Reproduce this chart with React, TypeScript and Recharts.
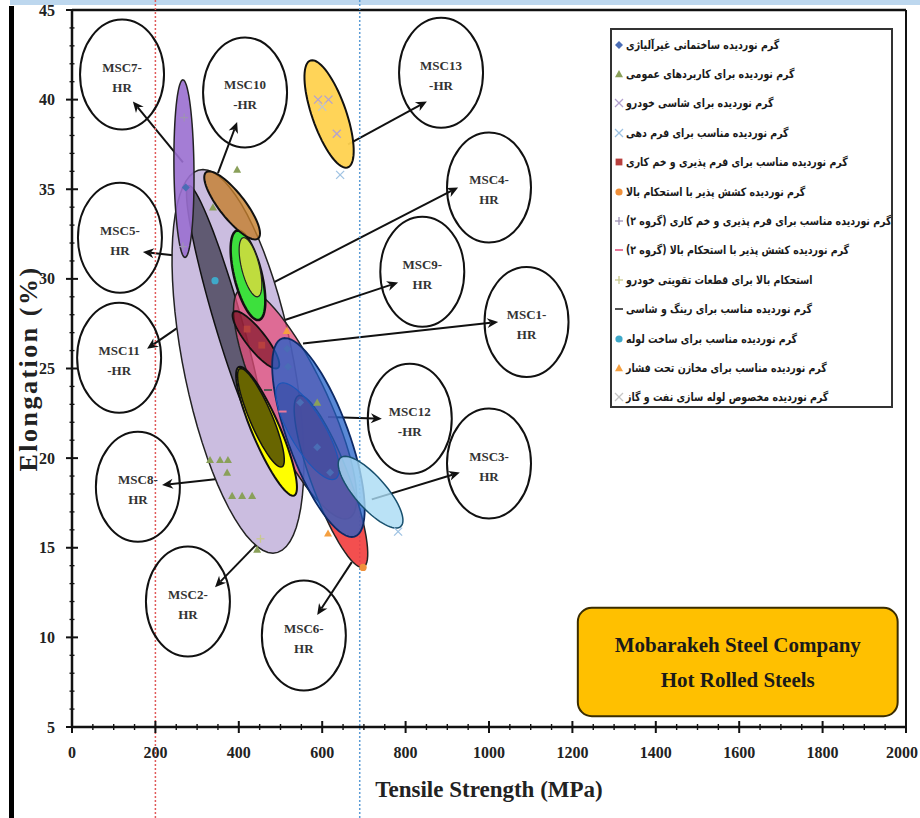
import { ScatterChart, Scatter, XAxis, YAxis, ReferenceLine, ReferenceArea, Legend, Label } from "recharts"

const serif = "'Liberation Serif', 'Times New Roman', serif"
const persian = "'DejaVu Sans', sans-serif"

// grade zones: topmost point, bottommost point (MPa, %) and half width at mid height (MPa)
const zoneNames = ["MSC2", "MSC11", "MSC7", "MSC1", "MSC6", "MSC9", "MSC8", "MSC8-core", "MSC12", "MSC12-core", "MSC3", "MSC5", "MSC5-core", "MSC10", "MSC13"]
const zoneTop = [[314, 36.1], [281, 35.2], [266, 41.1], [415, 29.5], [547, 23.5], [393, 28.2], [403, 25.1], [405, 25.0], [511, 26.7], [506, 24.2], [655, 20.1], [398, 32.7], [412, 32.3], [329, 36.0], [576, 42.2]]
const zoneBottom = [[482, 14.7], [456, 21.0], [271, 31.2], [655, 16.6], [695, 13.9], [489, 25.0], [530, 17.9], [501, 19.5], [671, 15.6], [624, 18.8], [777, 16.1], [446, 27.7], [444, 29.0], [439, 32.2], [657, 36.2]]
const zoneHalfWidth = [134, 34, 24, 86, 48, 29, 36, 29, 77, 48, 48, 34, 22, 38, 43]

const zoneStyle = [
  { fill: "#cbbde0", op: 1, stroke: "#222", w: 1.5 },
  { fill: "#3c3a4e", op: 0.75, stroke: "#111", w: 1.5 },
  { fill: "#9a6fd0", op: 0.9, stroke: "#222", w: 1.5 },
  { fill: "#e4507c", op: 0.75, stroke: "#222", w: 1.5 },
  { fill: "#f23c3c", op: 0.9, stroke: "#222", w: 1.5 },
  { fill: "#7a0f1e", op: 0.65, stroke: "#111", w: 1.8 },
  { fill: "#ffff00", op: 1, stroke: "#111", w: 2 },
  { fill: "#4e4a00", op: 0.85, stroke: "#111", w: 1.5 },
  { fill: "#2260c8", op: 0.75, stroke: "#0d2a66", w: 1.8 },
  { fill: "#2a3c96", op: 0.35, stroke: "#1d56b8", w: 1.2 },
  { fill: "#a9dbf4", op: 0.8, stroke: "#18506e", w: 1.5 },
  { fill: "#3de03d", op: 1, stroke: "#111", w: 2.5 },
  { fill: "#bfdc3e", op: 1, stroke: "#222", w: 1.2 },
  { fill: "#c47e2c", op: 0.8, stroke: "#111", w: 2 },
  { fill: "#ffd24f", op: 0.95, stroke: "#111", w: 2 },
]

// legend series (steel grades) and their measured points
const seriesNames = [
  "گرم نوردیده ساختمانی غیرآلیاژی",
  "گرم نوردیده برای کاربردهای عمومی",
  "گرم نوردیده برای شاسی خودرو",
  "گرم نوردیده مناسب برای فرم دهی",
  "گرم نوردیده مناسب برای فرم پذیری و خم کاری",
  "گرم نوردیده کشش پذیر با استحکام بالا",
  "گرم نوردیده مناسب برای فرم پذیری و خم کاری (گروه ۲)",
  "گرم نوردیده کشش پذیر با استحکام بالا (گروه ۲)",
  "استحکام بالا برای قطعات تقویتی خودرو",
  "گرم نوردیده مناسب برای رینگ و شاسی",
  "گرم نوردیده مناسب برای ساخت لوله",
  "گرم نوردیده مناسب برای مخازن تحت فشار",
  "گرم نوردیده مخصوص لوله سازی نفت و گاز",
]
const seriesPoints = [
  [[273, 35.1], [516, 26.1], [518, 25.1], [547, 23.1], [588, 20.6], [619, 19.2]],
  [[396, 36.1], [338, 34.0], [331, 19.9], [355, 19.9], [374, 19.9], [372, 19.2], [384, 17.9], [408, 17.9], [432, 17.9], [444, 14.9], [588, 23.1]],
  [[590, 40.0], [615, 40.0], [635, 38.1]],
  [[643, 35.8], [782, 15.9]],
  [[420, 27.2], [455, 26.3]],
  [[698, 13.9]],
  [[269, 39.0], [266, 31.8]],
  [[505, 22.6]],
  [[452, 15.5]],
  [[470, 23.8]],
  [[343, 29.9]],
  [[515, 27.1], [614, 15.8]],
  [[600, 39.6]],
]
const seriesMarker = ["diamond", "triangle", "x", "x", "square", "circle", "plus", "dash", "plus", "dash", "circle", "triangle", "x"]
const seriesColor = ["#4a6db5", "#8aa05a", "#b3a2cf", "#9fc3e3", "#b8403e", "#f0903a", "#9f92b5", "#e8789a", "#c9c98f", "#555555", "#3fa9c9", "#f5a040", "#c6c6c6"]

// label bubbles and the arrows pointing at them
const bubbleLine1 = ["MSC1-", "MSC2-", "MSC3-", "MSC4-", "MSC5-", "MSC6-", "MSC7-", "MSC8-", "MSC9-", "MSC10", "MSC11", "MSC12", "MSC13"]
const bubbleLine2 = ["HR", "HR", "HR", "HR", "HR", "HR", "HR", "HR", "HR", "-HR", "-HR", "-HR", "-HR"]
const bubbleX = [1090, 278, 1000, 1000, 115, 556, 120, 158, 840, 415, 113, 810, 885]
const bubbleY = [27.6, 12.0, 19.7, 35.1, 32.3, 10.1, 41.4, 18.4, 30.4, 40.4, 25.6, 22.2, 41.5]
const arrowFrom = [[554, 26.4], [468, 15.8], [719, 17.7], [458, 29.5], [408, 30.9], [671, 14.2], [266, 36.5], [492, 19.2], [458, 27.3], [350, 35.9], [355, 28.9], [614, 22.3], [662, 37.5]]
const arrowTo = [[1022, 27.6], [343, 12.8], [930, 19.2], [926, 35.1], [170, 31.5], [588, 11.25], [146, 39.9], [216, 18.5], [782, 29.8], [396, 38.75], [180, 26.1], [743, 22.2], [851, 39.9]]

const xTicks = Array.from({ length: 41 }, (_, i) => i * 50)
const yTicks = Array.from({ length: 41 }, (_, i) => 5 + i)
const limitLines = [200, 690]

const ellipsePoints = (top: number[], bottom: number[], hw: number) => {
  const cx = (top[0] + bottom[0]) / 2
  const cy = (top[1] + bottom[1]) / 2
  const ux = top[0] - cx
  const uy = top[1] - cy
  return Array.from({ length: 73 }, (_, i) => {
    const t = (i / 72) * Math.PI * 2
    return { x: cx + ux * Math.cos(t) + hw * Math.sin(t), y: cy + uy * Math.cos(t) }
  })
}

const MarkerIcon = ({ kind, color, x, y, s }: any) => {
  switch (kind) {
    case "diamond":
      return <path d={`M${x},${y - s}L${x + s},${y}L${x},${y + s}L${x - s},${y}Z`} fill={color} />
    case "triangle":
      return <path d={`M${x},${y - s}L${x + s},${y + s * 0.8}L${x - s},${y + s * 0.8}Z`} fill={color} />
    case "square":
      return <rect x={x - s * 0.85} y={y - s * 0.85} width={s * 1.7} height={s * 1.7} fill={color} />
    case "circle":
      return <circle cx={x} cy={y} r={s * 0.9} fill={color} />
    case "x":
      return (
        <g stroke={color} strokeWidth={1.3}>
          <line x1={x - s} y1={y - s} x2={x + s} y2={y + s} />
          <line x1={x - s} y1={y + s} x2={x + s} y2={y - s} />
        </g>
      )
    case "plus":
      return (
        <g stroke={color} strokeWidth={1.3}>
          <line x1={x - s} y1={y} x2={x + s} y2={y} />
          <line x1={x} y1={y - s} x2={x} y2={y + s} />
        </g>
      )
    default:
      return <line x1={x - s} y1={y} x2={x + s} y2={y} stroke={color} strokeWidth={2} />
  }
}

const XTick = (p: any) => {
  const { x, y, payload } = p
  const major = payload.value % 200 === 0
  return (
    <g>
      <line x1={x} x2={x} y1={y - (major ? 6 : 3)} y2={y + (major ? 6 : 3)} stroke="#111" strokeWidth={major ? 2 : 1.4} />
      {major && (
        <text x={Math.min(x, 902)} y={y + 31} textAnchor="middle" fontFamily={serif} fontWeight="bold" fontSize={16} fill="#222">
          {payload.value}
        </text>
      )}
    </g>
  )
}

const YTick = (p: any) => {
  const { x, y, payload } = p
  const major = payload.value % 5 === 0
  return (
    <g>
      <line x1={x - (major ? 6 : 2.5)} x2={x + (major ? 6 : 2.5)} y1={y} y2={y} stroke="#111" strokeWidth={major ? 2 : 1.3} />
      {major && (
        <text x={x - 17} y={y + 5.5} textAnchor="end" fontFamily={serif} fontWeight="bold" fontSize={16} fill="#222">
          {payload.value}
        </text>
      )}
    </g>
  )
}

const ArrowShape = (p: any) => {
  const { x1, y1, x2, y2 } = p
  const a = Math.atan2(y2 - y1, x2 - x1)
  const c = Math.cos(a)
  const s = Math.sin(a)
  const L = 11
  const W = 5
  const bx = x2 - L * c
  const by = y2 - L * s
  const nx = x2 - L * 0.7 * c
  const ny = y2 - L * 0.7 * s
  return (
    <g>
      <line x1={x1} y1={y1} x2={nx} y2={ny} stroke="#111" strokeWidth={2} />
      <path d={`M${x2},${y2}L${bx + W * s},${by - W * c}L${nx},${ny}L${bx - W * s},${by + W * c}Z`} fill="#111" />
    </g>
  )
}

const LegendBox = () => (
  <div style={{ width: 283, height: 380, boxSizing: "border-box", border: "2.5px solid #333", background: "#fff", overflow: "hidden" }}>
    {seriesNames.map((name, i) => (
      <div key={name} style={{ display: "flex", alignItems: "center", height: 29.4, paddingLeft: 1 }}>
        <svg width={12} height={12} style={{ flex: "none" }}>
          <MarkerIcon kind={seriesMarker[i]} color={seriesColor[i]} x={6} y={6} s={4} />
        </svg>
        <span
          style={{
            display: "inline-block",
            direction: "rtl",
            unicodeBidi: "isolate",
            fontFamily: persian,
            fontWeight: "bold",
            fontSize: 11.5,
            color: "#1a1a1a",
            marginLeft: 1,
            whiteSpace: "nowrap",
            transform: "scaleX(0.82)",
            transformOrigin: "left center",
          }}
        >
          {name}
        </span>
      </div>
    ))}
  </div>
)

const CompanyLabel = (p: any) => {
  const vb = p.viewBox || { x: 578, y: 608, width: 320, height: 109 }
  const cx = vb.x + vb.width / 2
  return (
    <g fontFamily={serif} fontWeight="bold" fontSize={21} fill="#1a1a1a" textAnchor="middle">
      <text x={cx} y={vb.y + 44}>Mobarakeh Steel Company</text>
      <text x={cx} y={vb.y + 79}>Hot Rolled Steels</text>
    </g>
  )
}

export default function App() {
  return (
    <div style={{ position: "absolute", left: 0, top: 0, width: 920, height: 818, background: "#fff" }}>
      <div style={{ position: "absolute", left: 10, top: 0, width: 910, height: 5, background: "#bdd7ee" }} />
      <div style={{ position: "absolute", left: 9, top: 6, width: 5, height: 812, background: "#000" }} />
      <ScatterChart width={920} height={818} margin={{ top: 10, right: 14, bottom: 31, left: 12 }}>
        <XAxis
          type="number"
          dataKey="x"
          domain={[0, 2000]}
          ticks={xTicks}
          interval={0}
          tick={(p: any) => <XTick {...p} />}
          tickSize={0}
          tickMargin={0}
          tickLine={false}
          axisLine={{ stroke: "#111", strokeWidth: 2.5 }}
          height={60}
          allowDataOverflow
        >
          <Label
            content={(p: any) => {
              const vb = p.viewBox || { x: 72, y: 727, width: 834 }
              return (
                <text x={vb.x + vb.width / 2} y={vb.y + 70} textAnchor="middle" fontFamily={serif} fontWeight="bold" fontSize={23} fill="#222">
                  Tensile Strength (MPa)
                </text>
              )
            }}
          />
        </XAxis>
        <YAxis
          type="number"
          dataKey="y"
          domain={[5, 45]}
          ticks={yTicks}
          interval={0}
          tick={(p: any) => <YTick {...p} />}
          tickSize={0}
          tickMargin={0}
          tickLine={false}
          axisLine={{ stroke: "#111", strokeWidth: 2.5 }}
          width={60}
          allowDataOverflow
        >
          <Label
            content={(p: any) => {
              const vb = p.viewBox || { x: 12, y: 10, height: 717 }
              const cy = vb.y + vb.height / 2
              return (
                <text
                  x={vb.x + 25}
                  y={cy}
                  transform={`rotate(-90 ${vb.x + 25} ${cy})`}
                  textAnchor="middle"
                  fontFamily={serif}
                  fontWeight="bold"
                  fontSize={26}
                  letterSpacing={2.5}
                  fill="#222"
                >
                  Elongation (%)
                </text>
              )
            }}
          />
        </YAxis>

        <ReferenceLine y={45} stroke="#111" strokeWidth={2.5} ifOverflow="visible" />
        <ReferenceLine x={2000} stroke="#111" strokeWidth={2} ifOverflow="visible" />

        {zoneNames.map((name, i) => {
          const st = zoneStyle[i]
          return (
            <Scatter
              key={name}
              name={name}
              data={ellipsePoints(zoneTop[i], zoneBottom[i], zoneHalfWidth[i])}
              lineType="joint"
              line={(lp: any) => {
                const pts = lp.points || []
                const d = pts.map((q: any, k: number) => `${k ? "L" : "M"}${q.x},${q.y}`).join("") + "Z"
                return <path d={d} fill={st.fill} fillOpacity={st.op} stroke={st.stroke} strokeWidth={st.w} />
              }}
              shape={() => <g />}
              legendType="none"
              isAnimationActive={false}
            />
          )
        })}

        {seriesNames.map((name, i) => (
          <Scatter
            key={name}
            name={name}
            data={seriesPoints[i].map(([x, y]) => ({ x, y }))}
            shape={(p: any) => <MarkerIcon kind={seriesMarker[i]} color={seriesColor[i]} x={p.cx} y={p.cy} s={4} />}
            isAnimationActive={false}
          />
        ))}

        <Scatter
          name="bubbles"
          data={bubbleX.map((x, i) => ({ x, y: bubbleY[i], l1: bubbleLine1[i], l2: bubbleLine2[i] }))}
          shape={(p: any) => (
            <g>
              <ellipse cx={p.cx} cy={p.cy} rx={42} ry={55} fill="none" stroke="#111" strokeWidth={2} />
              <g fontFamily={serif} fontWeight="bold" fontSize={13} fill="#333" textAnchor="middle">
                <text x={p.cx} y={p.cy - 3}>{p.payload.l1}</text>
                <text x={p.cx} y={p.cy + 17}>{p.payload.l2}</text>
              </g>
            </g>
          )}
          legendType="none"
          isAnimationActive={false}
        />

        {arrowFrom.map((f, i) => (
          <ReferenceLine
            key={"arrow" + i}
            segment={[{ x: f[0], y: f[1] }, { x: arrowTo[i][0], y: arrowTo[i][1] }]}
            ifOverflow="visible"
            shape={(p: any) => <ArrowShape {...p} />}
          />
        ))}

        <ReferenceArea
          x1={1213}
          x2={1980}
          y1={5.6}
          y2={11.65}
          ifOverflow="visible"
          shape={(p: any) => <rect x={p.x} y={p.y} width={p.width} height={p.height} rx={14} fill="#ffc000" stroke="#3a2c00" strokeWidth={2} />}
          label={<CompanyLabel />}
        />

        {limitLines.map((v, i) => (
          <ReferenceLine
            key={"limit" + v}
            x={v}
            ifOverflow="visible"
            shape={(p: any) => (
              <line x1={p.x1} x2={p.x2} y1={0} y2={818} stroke={i === 0 ? "#e05a5a" : "#5b9bd5"} strokeWidth={1.5} strokeDasharray="2 2" />
            )}
          />
        ))}

        <Legend
          layout="vertical"
          align="center"
          verticalAlign="middle"
          wrapperStyle={{ left: 610, top: 28, width: 283, height: 380 }}
          content={() => <LegendBox />}
        />
      </ScatterChart>
    </div>
  )
}
